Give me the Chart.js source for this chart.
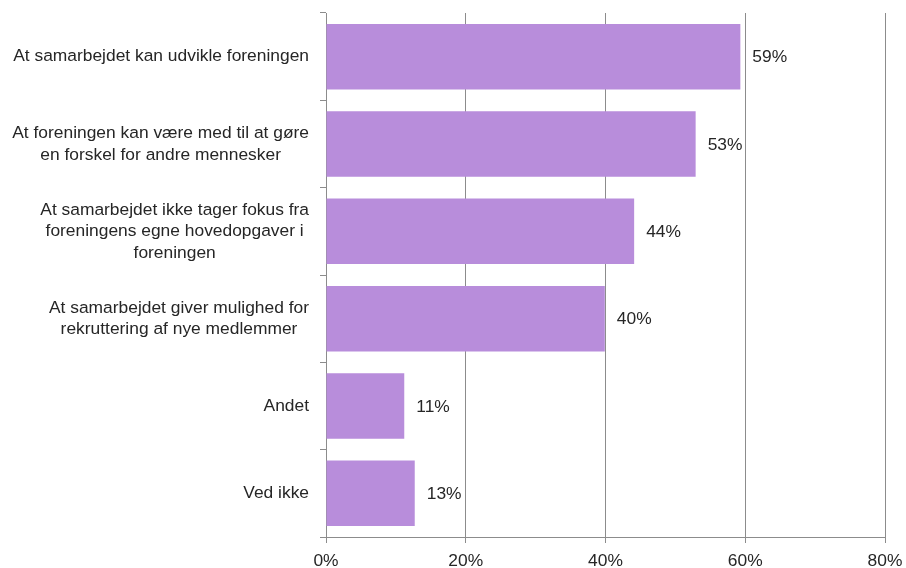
<!DOCTYPE html>
<html>
<head>
<meta charset="utf-8">
<script src="https://cdn.jsdelivr.net/npm/chart.js@4/dist/chart.umd.min.js"></script>
<style>
html,body{margin:0;padding:0;background:#fff;}
#wrap{width:906px;height:568px;position:relative;}
</style>
</head>
<body>
<div id="wrap"><canvas id="c" width="906" height="568"></canvas></div>
<script>
const categories = [
  ["At samarbejdet kan udvikle foreningen"],
  ["At foreningen kan være med til at gøre", "en forskel for andre mennesker"],
  ["At samarbejdet ikke tager fokus fra", "foreningens egne hovedopgaver i", "foreningen"],
  ["At samarbejdet giver mulighed for", "rekruttering af nye medlemmer"],
  ["Andet"],
  ["Ved ikke"]
];
const values = [59.3, 52.9, 44.1, 39.9, 11.2, 12.7];
const xTicks = [0, 20, 40, 60, 80];

const FONT = '"Liberation Sans", Arial, sans-serif';
const FS = 17.4;
const TEXT = '#262626';
const GRID = '#8c8c8c';

const labelPlugin = {
  id: 'customLabels',
  afterDraw(chart) {
    const ctx = chart.ctx;
    const ys = chart.scales.y;
    const meta = chart.getDatasetMeta(0);
    ctx.save();
    ctx.font = FS + 'px ' + FONT;
    ctx.fillStyle = TEXT;
    ctx.textBaseline = 'middle';
    const rightEdge = chart.chartArea.left - 17;
    const lh = 21.5;
    categories.forEach((lines, i) => {
      const yc = ys.getPixelForValue(i);
      const maxW = Math.max(...lines.map(l => ctx.measureText(l).width));
      const cx = rightEdge - maxW / 2;
      ctx.textAlign = 'center';
      lines.forEach((l, j) => {
        const y = yc + (j - (lines.length - 1) / 2) * lh;
        ctx.fillText(l, cx, y);
      });
    });
    ctx.textAlign = 'left';
    meta.data.forEach((bar, i) => {
      ctx.fillText(Math.round(values[i]) + '%', bar.x + 12, bar.y + 1);
    });
    ctx.restore();
  }
};

new Chart(document.getElementById('c'), {
  type: 'bar',
  data: {
    labels: categories.map(c => c.join(' ')),
    datasets: [{
      data: values,
      backgroundColor: '#b88ddb',
      borderWidth: 0,
      barPercentage: 1,
      categoryPercentage: 0.75
    }]
  },
  options: {
    indexAxis: 'y',
    responsive: false,
    animation: false,
    layout: { padding: { top: 13, right: 21, left: 0, bottom: 0 } },
    plugins: { legend: { display: false }, tooltip: { enabled: false } },
    scales: {
      x: {
        min: 0, max: 80,
        afterBuildTicks: s => { s.ticks = xTicks.map(v => ({ value: v })); },
        afterFit: s => { s.height = 31; s.paddingLeft = 0; s.paddingRight = 0; },
        grid: { color: GRID, lineWidth: 1, drawTicks: true, tickLength: 6, tickColor: GRID },
        border: { display: true, color: GRID, width: 1 },
        ticks: {
          color: TEXT,
          font: { family: FONT, size: FS },
          padding: 8,
          maxRotation: 0,
          callback: v => v + '%'
        }
      },
      y: {
        afterFit: s => { s.width = 326; s.paddingTop = 0; s.paddingBottom = 0; },
        grid: { offset: true, drawOnChartArea: false, drawTicks: true, tickLength: 6, color: GRID, tickColor: GRID },
        border: { display: true, color: GRID, width: 1 },
        ticks: { display: false }
      }
    }
  },
  plugins: [labelPlugin]
});
</script>
</body>
</html>
